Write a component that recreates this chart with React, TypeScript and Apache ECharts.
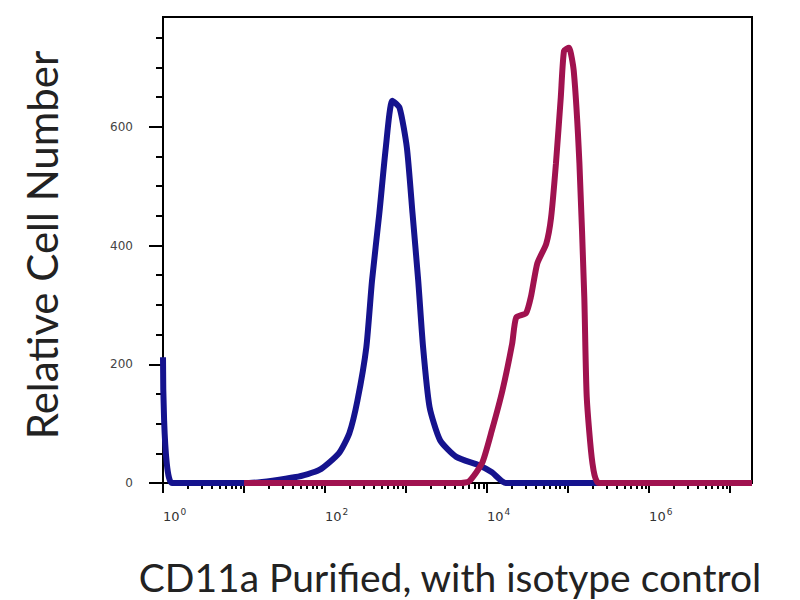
import React, { useEffect, useRef } from "react";
import * as echarts from "echarts";

// log10 of fluorescence intensity (x) and relative cell number (y)
const isotypeLogX = [0, 0.11, 1.06, 1.64, 1.93, 2.17, 2.3, 2.4, 2.51, 2.58, 2.67, 2.75, 2.83, 2.92, 3.01, 3.08, 3.15, 3.21, 3.29, 3.42, 3.62, 3.9, 4.06, 4.23, 7.27];
const isotypeY = [212, 0, 0, 10, 22, 50, 84, 139, 229, 341, 454, 565, 644, 632, 565, 454, 341, 229, 128, 72, 44, 30, 18, 0, 0];

const cd11aLogX = [1.0, 3.68, 3.78, 3.94, 4.06, 4.19, 4.31, 4.36, 4.48, 4.54, 4.62, 4.73, 4.79, 4.85, 4.91, 4.95, 5.01, 5.07, 5.14, 5.2, 5.23, 5.3, 5.38, 7.27];
const cd11aY = [0, 0, 3, 34, 89, 156, 235, 279, 286, 313, 370, 403, 447, 538, 650, 728, 733, 694, 538, 313, 145, 34, 0, 0];

const xLabelDecades = [0, 2, 4, 6];
const xMajorDecades = [0, 1, 2, 3, 4, 5, 6, 7];
const yLabelValues = [0, 200, 400, 600];
const yMinorValues = [50, 100, 150, 250, 300, 350, 450, 500, 550, 650, 700, 750];

const X_MIN = 0;
const X_MAX = 7.27;
const Y_MAX = 785;

const xMinorTicks: number[] = [];
xMajorDecades.forEach((d) => {
  for (let k = 2; k <= 9; k++) {
    const v = d + Math.log10(k);
    if (v < X_MAX) xMinorTicks.push(v);
  }
});

export default function App() {
  const ref = useRef<HTMLDivElement>(null);
  useEffect(() => {
    if (!ref.current) return;
    const chart = echarts.init(ref.current, null, { renderer: "svg" });
    const font = "Lato";
    chart.setOption({
      animation: false,
      backgroundColor: "#ffffff",
      grid: {
        left: 163,
        right: 48,
        top: 17,
        bottom: 117,
        show: true,
        borderColor: "#000",
        borderWidth: 2,
        containLabel: false,
        outerBoundsMode: "none",
      },
      xAxis: [
        {
          type: "value",
          position: "bottom",
          min: X_MIN,
          max: X_MAX,
          splitLine: { show: false },
          axisLine: { show: true, lineStyle: { color: "#000", width: 2 } },
          axisTick: {
            show: true,
            inside: false,
            length: 10,
            customValues: xMajorDecades,
            lineStyle: { color: "#000", width: 2 },
          },
          axisLabel: {
            show: true,
            customValues: xLabelDecades,
            align: "left",
            margin: 24,
            color: "#333",
            formatter: (v: number) => `{b|10}{s|${Math.round(v)}}`,
            rich: {
              b: { fontSize: 13, fontFamily: "DejaVu Sans", color: "#333" },
              s: { fontSize: 9, fontFamily: "DejaVu Sans", color: "#333", padding: [0, 0, 10, 1] },
            },
          },
        },
        {
          type: "value",
          position: "bottom",
          min: X_MIN,
          max: X_MAX,
          splitLine: { show: false },
          axisLine: { show: false },
          axisTick: {
            show: true,
            inside: false,
            length: 6,
            customValues: xMinorTicks,
            lineStyle: { color: "#000", width: 2 },
          },
          axisLabel: { show: false },
        },
      ],
      yAxis: [
        {
          type: "value",
          position: "left",
          min: 0,
          max: Y_MAX,
          splitLine: { show: false },
          axisLine: { show: true, lineStyle: { color: "#000", width: 2 } },
          axisTick: {
            show: true,
            length: 14,
            customValues: yLabelValues,
            lineStyle: { color: "#000", width: 2 },
          },
          axisLabel: {
            show: true,
            customValues: yLabelValues,
            margin: 30,
            fontSize: 12,
            fontFamily: "DejaVu Sans",
            color: "#444",
          },
        },
        {
          type: "value",
          position: "left",
          min: 0,
          max: Y_MAX,
          splitLine: { show: false },
          axisLine: { show: false },
          axisTick: {
            show: true,
            length: 7,
            customValues: yMinorValues,
            lineStyle: { color: "#000", width: 2 },
          },
          axisLabel: { show: false },
        },
      ],
      series: [
        {
          name: "Isotype control",
          type: "line",
          xAxisIndex: 0,
          yAxisIndex: 0,
          data: isotypeLogX.map((x, i) => [x, isotypeY[i]]),
          showSymbol: false,
          smooth: 0.2,
          lineStyle: { color: "#15138e", width: 6 },
          z: 3,
        },
        {
          name: "CD11a Purified",
          type: "line",
          xAxisIndex: 0,
          yAxisIndex: 0,
          data: cd11aLogX.map((x, i) => [x, cd11aY[i]]),
          showSymbol: false,
          smooth: 0.2,
          lineStyle: { color: "#a0124f", width: 6 },
          z: 4,
        },
      ],
      graphic: [
        {
          type: "text",
          x: 42,
          y: 245,
          rotation: Math.PI / 2,
          style: {
            text: "Relative Cell Number",
            font: `42px ${font}`,
            fill: "#222",
            align: "center",
            verticalAlign: "middle",
          },
        },
        {
          type: "text",
          x: 450,
          y: 577,
          style: {
            text: "CD11a Purified, with isotype control",
            font: `39px ${font}`,
            fill: "#222",
            align: "center",
            verticalAlign: "middle",
          },
        },
      ],
    });
    return () => chart.dispose();
  }, []);
  return (
    <div
      ref={ref}
      style={{ position: "fixed", left: 0, top: 0, width: 800, height: 600, background: "#fff" }}
    />
  );
}
